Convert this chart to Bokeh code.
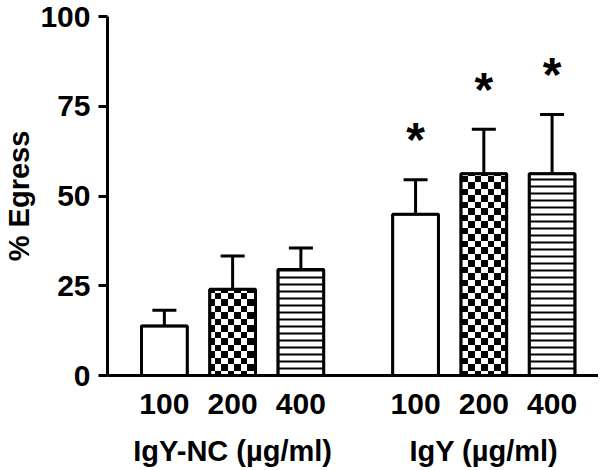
from bokeh.plotting import figure
from bokeh.models import FixedTicker, ColumnDataSource, Range1d, CanvasTexture
from bokeh.embed import file_html
from bokeh.resources import INLINE
from bokeh.core.properties import value

# ---- data ----
groups = ["IgY-NC (µg/ml)", "IgY (µg/ml)"]
doses = ["100", "200", "400"]
egress_nc = [13.8, 24.0, 29.5]
error_nc = [4.4, 9.3, 6.0]
egress_igy = [44.9, 56.2, 56.2]
error_igy = [9.6, 12.4, 16.5]
significant_nc = [False, False, False]
significant_igy = [True, True, True]
y_ticks = [0, 25, 50, 75, 100]

# ---- layout of the categorical axis (slot units) ----
GROUP_GAP = 0.68
BAR_WIDTH = 0.67

means = egress_nc + egress_igy
errs = error_nc + error_igy
sig = significant_nc + significant_igy
pattern_for_dose = {"100": "blank", "200": "checker", "400": "horizontal_line"}

slot = [gi * (len(doses) + GROUP_GAP) + di
        for gi in range(len(groups)) for di in range(len(doses))]
dose_of_slot = [d for _ in groups for d in doses]
group_center = [gi * (len(doses) + GROUP_GAP) + (len(doses) - 1) / 2
                for gi in range(len(groups))]

src = ColumnDataSource(dict(
    x=slot,
    top=means,
    upper=[m + e for m, e in zip(means, errs)],
    pattern=[pattern_for_dose[d] for d in dose_of_slot],
    mark=["*" if s else "" for s in sig],
))
grp_src = ColumnDataSource(dict(x=group_center, y=[0] * len(groups), label=groups))

FONT = "Liberation Sans"

checker = CanvasTexture(code="""
const c = ctx.canvas;
c.width = 13;
c.height = 13;
ctx.fillStyle = "#000000";
ctx.fillRect(0, 0, 7, 7);
ctx.fillRect(7, 7, 6, 6);
""")

p = figure(
    x_range=Range1d(-0.833, 6.36),
    y_range=Range1d(0, 100),
    width=598, height=468,
    output_backend="svg", toolbar_location=None,
    min_border_left=106, min_border_right=0, min_border_top=16, min_border_bottom=93,
)
p.title.visible = False
p.outline_line_color = None
p.xgrid.visible = False
p.ygrid.visible = False
p.background_fill_color = "white"
p.border_fill_color = "white"

p.vbar(x="x", top="top", width=BAR_WIDTH, bottom=0, source=src,
       fill_color="white", line_color="black", line_width=2.5,
       hatch_pattern="pattern", hatch_extra={"checker": checker},
       hatch_color="black", hatch_scale=7, hatch_weight=2)
p.vbar(x="x", top="top", width=BAR_WIDTH, bottom=0, source=src,
       fill_color=None, line_color="black", line_width=3)

p.segment(x0="x", y0="top", x1="x", y1="upper", source=src,
          line_color="black", line_width=3)
p.scatter(x="x", y="upper", source=src, marker="dash", size=24,
          line_color="black", line_width=3)

p.text(x="x", y="upper", text="mark", source=src,
       text_font=value(FONT), text_font_style="bold", text_font_size="48px",
       text_align="center", text_baseline="alphabetic", y_offset=-40,
       text_color="black")

# group labels under the dose labels
p.text(x="x", y="y", text="label", source=grp_src, level="annotation",
       text_font=value(FONT), text_font_style="bold", text_font_size="29px",
       text_align="center", text_baseline="top", y_offset=59,
       text_color="black")

# y axis
ya = p.yaxis[0]
ya.ticker = FixedTicker(ticks=y_ticks)
ya.axis_label = "% Egress"
ya.axis_label_text_font = FONT
ya.axis_label_text_font_style = "bold"
ya.axis_label_text_font_size = "29px"
ya.axis_label_text_color = "black"
ya.axis_label_standoff = 2
ya.major_label_text_font = FONT
ya.major_label_text_font_style = "bold"
ya.major_label_text_font_size = "30px"
ya.major_label_text_color = "black"
ya.major_label_standoff = 8
ya.major_tick_out = 9
ya.major_tick_in = 0
ya.major_tick_line_width = 3
ya.minor_tick_line_color = None
ya.axis_line_width = 3
ya.axis_line_color = "black"

# x axis: dose labels under each bar
xa = p.xaxis[0]
xa.ticker = FixedTicker(ticks=slot)
xa.major_label_overrides = {s: d for s, d in zip(slot, dose_of_slot)}
xa.axis_line_width = 3
xa.axis_line_color = "black"
xa.major_tick_line_color = None
xa.minor_tick_line_color = None
xa.major_label_text_font = FONT
xa.major_label_text_font_style = "bold"
xa.major_label_text_font_size = "30px"
xa.major_label_text_color = "black"
xa.major_label_standoff = 12

open("out.html", "w").write(file_html(p, INLINE))
